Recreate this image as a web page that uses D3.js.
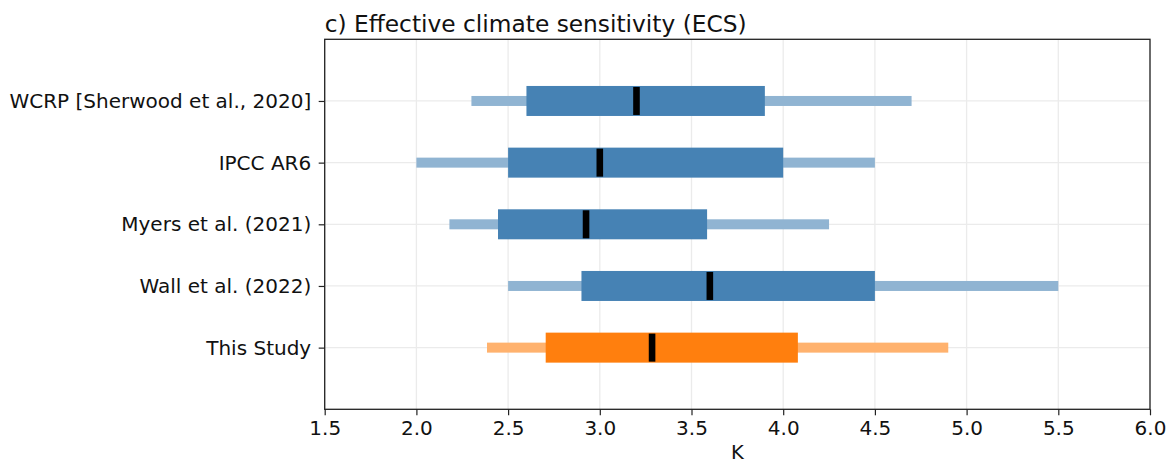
<!DOCTYPE html>
<html>
<head>
<meta charset="utf-8">
<script src="https://cdn.jsdelivr.net/npm/d3@7"></script>
<style>
  body { margin: 0; background: #fff; }
  svg { font-family: "DejaVu Sans", sans-serif; }
</style>
</head>
<body>
<svg width="1166" height="462"></svg>
<script>
const studies = ['WCRP [Sherwood et al., 2020]', 'IPCC AR6', 'Myers et al. (2021)', 'Wall et al. (2022)', 'This Study'];
// 5-95% range
const lowOuter = [2.3, 2.0, 2.18, 2.5, 2.385];
const highOuter = [4.7, 4.5, 4.25, 5.5, 4.9];
// 17-83% range
const lowInner = [2.6, 2.5, 2.445, 2.9, 2.705];
const highInner = [3.9, 4.0, 3.585, 4.5, 4.08];
const medians = [3.2, 3.0, 2.925, 3.6, 3.285];
const xTicks = [1.5, 2.0, 2.5, 3.0, 3.5, 4.0, 4.5, 5.0, 5.5, 6.0];

const margin = {left: 324.7, right: 16, top: 39.3, bottom: 52.7};
const width = 1166, height = 462;

const svg = d3.select('svg');

const x = d3.scaleLinear()
    .domain([1.5, 6.0])
    .range([margin.left, width - margin.right]);

const y = d3.scaleLinear()
    .domain([-1, 5])
    .range([margin.top, height - margin.bottom]);

const colorDark = (i) => i === studies.length - 1 ? '#ff7f0e' : '#4682b4';
const colorLight = (i) => i === studies.length - 1 ? '#ffb26e' : '#90b4d2';

// grid
const grid = svg.append('g');
grid.selectAll('.vgrid')
    .data(xTicks)
    .enter().append('line')
    .attr('x1', d => x(d)).attr('x2', d => x(d))
    .attr('y1', y(-1)).attr('y2', y(5))
    .style('stroke', '#ebebeb')
    .style('stroke-width', 1.3);

grid.selectAll('.hgrid')
    .data(studies)
    .enter().append('line')
    .attr('x1', x(1.5)).attr('x2', x(6.0))
    .attr('y1', (d, i) => y(i)).attr('y2', (d, i) => y(i))
    .style('stroke', '#ebebeb')
    .style('stroke-width', 1.3);

// outer range
svg.selectAll('.outer')
    .data(studies)
    .enter().append('rect')
    .attr('class', 'outer')
    .attr('x', (d, i) => x(lowOuter[i]))
    .attr('width', (d, i) => x(highOuter[i]) - x(lowOuter[i]))
    .attr('y', (d, i) => y(i) - 5)
    .attr('height', 10)
    .style('fill', (d, i) => colorLight(i));

// inner range
svg.selectAll('.inner')
    .data(studies)
    .enter().append('rect')
    .attr('class', 'inner')
    .attr('x', (d, i) => x(lowInner[i]))
    .attr('width', (d, i) => x(highInner[i]) - x(lowInner[i]))
    .attr('y', (d, i) => y(i) - 15)
    .attr('height', 30)
    .style('fill', (d, i) => colorDark(i));

// medians
svg.selectAll('.median')
    .data(studies)
    .enter().append('rect')
    .attr('class', 'median')
    .attr('x', (d, i) => x(medians[i]) - 3.3)
    .attr('width', 6.6)
    .attr('y', (d, i) => y(i) - 14)
    .attr('height', 28)
    .style('fill', '#000');

// axes
const xAxis = d3.axisBottom(x)
    .tickValues(xTicks)
    .tickFormat(d3.format('.1f'))
    .tickSize(6)
    .tickPadding(6);

const yAxis = d3.axisLeft(y)
    .tickValues(d3.range(studies.length))
    .tickFormat(i => studies[i])
    .tickSize(6)
    .tickPadding(7.5);

const gx = svg.append('g')
    .attr('transform', `translate(0,${y(5)})`)
    .call(xAxis);
const gy = svg.append('g')
    .attr('transform', `translate(${x(1.5)},0)`)
    .call(yAxis);

[gx, gy].forEach(g => {
    g.select('.domain').remove();
    g.selectAll('.tick line').style('stroke', '#222').style('stroke-width', 1.2);
    g.selectAll('.tick text')
        .style('font-family', '"DejaVu Sans", sans-serif')
        .style('font-size', '20px')
        .style('fill', '#111');
});

// frame
svg.append('rect')
    .attr('x', x(1.5)).attr('y', y(-1))
    .attr('width', x(6.0) - x(1.5))
    .attr('height', y(5) - y(-1))
    .style('fill', 'none')
    .style('stroke', '#222')
    .style('stroke-width', 1.3);

// labels
svg.append('text')
    .attr('x', (x(1.5) + x(6.0)) / 2)
    .attr('y', 458.5)
    .style('text-anchor', 'middle')
    .style('font-size', '19.5px')
    .style('fill', '#111')
    .text('K');

svg.append('text')
    .attr('x', x(1.5))
    .attr('y', 31.5)
    .style('font-size', '23.3px')
    .style('fill', '#111')
    .text('c) Effective climate sensitivity (ECS)');
</script>
</body>
</html>
